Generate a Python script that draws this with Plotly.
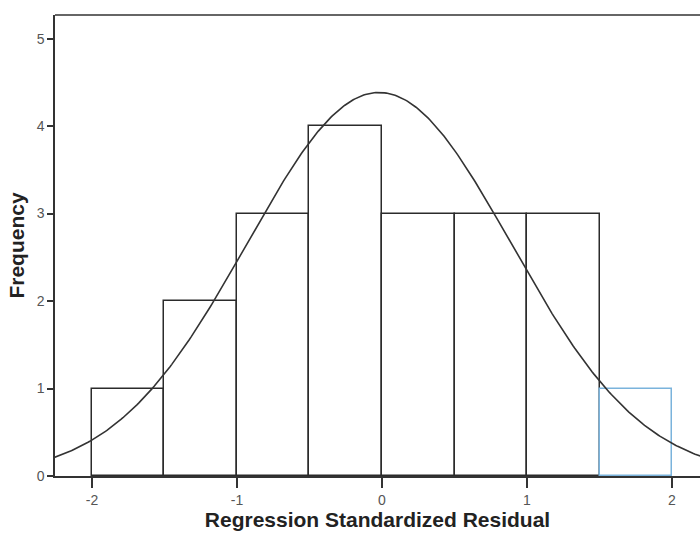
import numpy as np
import plotly.graph_objects as go

# Histogram data (bin left edges, counts)
bin_left = [-2.0, -1.5, -1.0, -0.5, 0.0, 0.5, 1.0, 1.5]
bin_width = 0.5
counts = [1, 2, 3, 4, 3, 3, 3, 1]
bar_line_colors = ["#2b2b2b"] * 7 + ["#7ab3dc"]

# Fitted normal curve parameters
curve_mean = -0.02
curve_sd = 0.91
n_total = sum(counts)

x_ticks = [-2, -1, 0, 1, 2]
y_ticks = [0, 1, 2, 3, 4, 5]

centers = [b + bin_width / 2 for b in bin_left]

xs = np.linspace(-2.4, 2.4, 400)
ys = n_total * bin_width / (curve_sd * np.sqrt(2 * np.pi)) * np.exp(-0.5 * ((xs - curve_mean) / curve_sd) ** 2)

fig = go.Figure()
fig.add_trace(go.Bar(
    x=centers, y=counts, width=[bin_width] * len(counts),
    marker=dict(color="rgba(255,255,255,0)", line=dict(color=bar_line_colors, width=1.5)),
    showlegend=False,
))
fig.add_trace(go.Scatter(
    x=xs, y=ys, mode="lines", line=dict(color="#333333", width=1.6), showlegend=False,
))

fig.update_layout(
    width=700, height=545,
    margin=dict(l=55, r=0, t=15, b=69),
    paper_bgcolor="white", plot_bgcolor="white",
    font=dict(family="Liberation Sans, Arial, sans-serif", color="#555555", size=14),
    bargap=0,
)
fig.update_xaxes(
    range=[-2.255, 2.193], tickvals=x_ticks, ticktext=[str(v) for v in x_ticks],
    ticks="outside", ticklen=10, tickwidth=1.5, tickcolor="#333333",
    showline=True, linecolor="#333333", linewidth=1.5, showgrid=False, zeroline=False,
    title=dict(text="<b>Regression Standardized Residual</b>", font=dict(size=21, color="#222222"), standoff=6),
)
fig.update_yaxes(
    range=[0, 5.27], tickvals=y_ticks, ticktext=[str(v) for v in y_ticks],
    ticks="outside", ticklen=6, tickwidth=1.5, tickcolor="#333333",
    showline=True, linecolor="#333333", linewidth=1.5, showgrid=False, zeroline=False,
    title=dict(text="<b>Frequency</b>", font=dict(size=21, color="#222222"), standoff=6),
)
fig.add_shape(type="line", xref="paper", yref="paper", x0=0, x1=1, y0=1, y1=1,
              line=dict(color="#333333", width=1.5))

fig.write_html("out.html")
